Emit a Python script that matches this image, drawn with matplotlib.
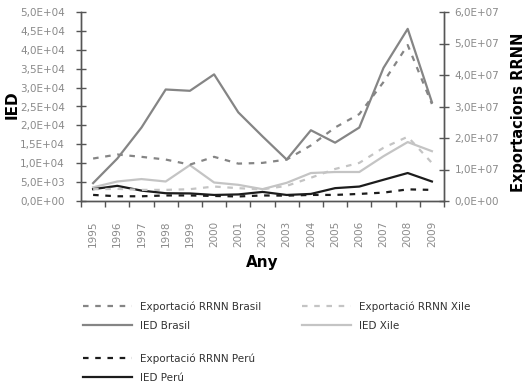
import matplotlib
matplotlib.use("Agg")
import matplotlib.pyplot as plt
import numpy as np

years = [str(y) for y in range(1995, 2010)]

# IED (left axis)
ied_brasil = [4730, 11230, 19440, 29500, 29150, 33500, 23450, 17100, 10960, 18720, 15430, 19440, 35220, 45540, 26130]
ied_xile = [3610, 5160, 5800, 5160, 9490, 4890, 4280, 3130, 4810, 7400, 7670, 7670, 11850, 15590, 13180]
ied_peru = [3130, 4010, 2750, 2060, 2000, 1600, 1740, 2400, 1600, 1870, 3400, 3820, 5620, 7400, 5160]

# Exportacions RRNN (right axis)
exp_brasil = [1.348e7, 1.476e7, 1.402e7, 1.316e7, 1.155e7, 1.402e7, 1.187e7, 1.21e7, 1.316e7, 1.765e7, 2.333e7, 2.759e7, 3.776e7, 4.951e7, 3.08e7]
exp_xile = [3.75e6, 3.85e6, 3.53e6, 3.53e6, 3.75e6, 4.59e6, 4.07e6, 3.69e6, 4.81e6, 7.38e6, 1.017e7, 1.21e7, 1.69e7, 2.04e7, 1.21e7]
exp_peru = [1.93e6, 1.5e6, 1.5e6, 1.76e6, 1.76e6, 1.6e6, 1.44e6, 1.76e6, 1.7e6, 1.93e6, 1.93e6, 2.25e6, 2.66e6, 3.69e6, 3.53e6]

left_ticks = [0, 5000, 10000, 15000, 20000, 25000, 30000, 35000, 40000, 45000, 50000]
left_labels = ["0,0E+00", "5,0E+03", "1,0E+04", "1,5E+04", "2,0E+04", "2,5E+04",
               "3,0E+04", "3,5E+04", "4,0E+04", "4,5E+04", "5,0E+04"]
right_ticks = [0, 1e7, 2e7, 3e7, 4e7, 5e7, 6e7]
right_labels = ["0,0E+00", "1,0E+07", "2,0E+07", "3,0E+07", "4,0E+07", "5,0E+07", "6,0E+07"]

C_BR = "#858585"
C_XI = "#c4c4c4"
C_PE = "#1c1c1c"
LW = 1.6
DASH = (0, (2.5, 3))
tick_col = "#8a8a8a"
spine_col = "#555555"

plt.rcParams['font.family'] = ['DejaVu Sans']

W, H = 527, 387
fig = plt.figure(figsize=(W / 100, H / 100), dpi=100)
ax = fig.add_axes([81 / W, 1 - 201 / H, (444 - 81) / W, (201 - 12) / H])
ax2 = ax.twinx()

x = np.arange(len(years))

l_ied_br, = ax.plot(x, ied_brasil, color=C_BR, lw=LW)
l_ied_xi, = ax.plot(x, ied_xile, color=C_XI, lw=LW)
l_ied_pe, = ax.plot(x, ied_peru, color=C_PE, lw=LW)
l_exp_br, = ax2.plot(x, exp_brasil, color=C_BR, lw=LW, linestyle=DASH)
l_exp_xi, = ax2.plot(x, exp_xile, color=C_XI, lw=LW, linestyle=DASH)
l_exp_pe, = ax2.plot(x, exp_peru, color=C_PE, lw=LW, linestyle=DASH)

ax.set_xlim(-0.5, len(years) - 0.5)
ax.set_ylim(0, 50000)
ax2.set_ylim(0, 6e7)

tick_font = dict(family='DejaVu Sans', size=7.5)

ax.set_xticks(np.arange(-0.5, len(years), 1.0))
ax.set_xticklabels([])
ax.set_xticks(x, minor=True)
ax.set_xticklabels(years, minor=True, rotation=90, color=tick_col, fontdict=tick_font)
ax.tick_params(axis='x', which='major', direction='out', length=4.5, color=spine_col, width=1)
ax.tick_params(axis='x', which='minor', length=0, pad=14)

ax.set_yticks(left_ticks)
ax.set_yticklabels(left_labels, color=tick_col, fontdict=tick_font)
ax.tick_params(axis='y', direction='inout', length=7, color=spine_col, width=1, pad=8)
ax2.set_yticks(right_ticks)
ax2.set_yticklabels(right_labels, color=tick_col, fontdict=tick_font)
ax2.tick_params(axis='y', direction='inout', length=7, color=spine_col, width=1, pad=4)

for a in (ax, ax2):
    a.spines['top'].set_visible(False)
    for s in ('left', 'right', 'bottom'):
        a.spines[s].set_color(spine_col)
        a.spines[s].set_linewidth(1)

fig.text(12 / W, 1 - 105 / H, "IED", rotation=90, ha='center', va='center',
         fontsize=11, fontweight='bold')
fig.text(262.5 / W, 1 - 263 / H, "Any", ha='center', va='center',
         fontsize=11, fontweight='bold')
fig.text(526 / W, 1 - 112 / H, "Exportacions RRNN", rotation=90, ha='right', va='center',
         fontsize=10.5, fontweight='bold')

leg_kw = dict(frameon=False, fontsize=7.5, handlelength=4.7, handletextpad=0.75,
              labelspacing=0.9, borderpad=0, borderaxespad=0, labelcolor='#333333')
fig.legend([l_exp_br, l_ied_br], ["Exportació RRNN Brasil", "IED Brasil"],
           loc='upper left', bbox_to_anchor=(83 / W, 1 - 301 / H), **leg_kw)
fig.legend([l_exp_xi, l_ied_xi], ["Exportació RRNN Xile", "IED Xile"],
           loc='upper left', bbox_to_anchor=(302 / W, 1 - 301 / H), **leg_kw)
fig.legend([l_exp_pe, l_ied_pe], ["Exportació RRNN Perú", "IED Perú"],
           loc='upper left', bbox_to_anchor=(83 / W, 1 - 353 / H), **leg_kw)

fig.savefig("out.png", dpi=100)
